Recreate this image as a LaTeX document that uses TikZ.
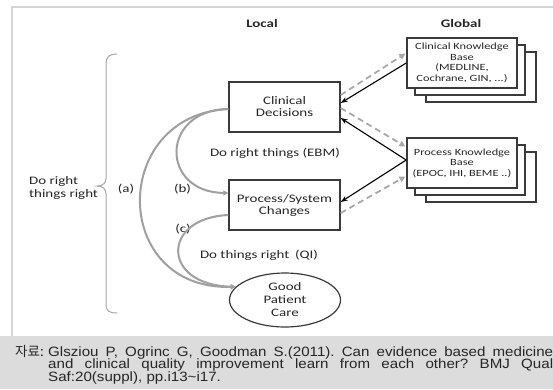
\documentclass[tikz,border=0pt]{standalone}
\usepackage{fontspec}
\usetikzlibrary{arrows.meta,calc,shapes.geometric}
\newfontfamily\dfont[FakeStretch=1.3]{Carlito}
\newfontfamily\cfont[FakeStretch=1.12]{Liberation Sans}
\newfontfamily\kfont{Noto Sans CJK KR}
\definecolor{boxc}{HTML}{3A3A3A}
\definecolor{txt}{HTML}{262626}
\definecolor{dashc}{HTML}{A8A8A8}
\definecolor{curvec}{HTML}{A0A0A0}
\definecolor{bracec}{HTML}{A8A8A8}
\definecolor{bandc}{HTML}{DCDCDC}
\definecolor{framec}{HTML}{D4D4D4}
\frenchspacing
\begin{document}
\begin{tikzpicture}[x=1pt,y=-1pt,
  box/.style={draw=boxc, line width=1.4pt, fill=white, minimum width=111pt, minimum height=50pt, inner sep=0pt, align=center, text=txt, font=\dfont\fontsize{11.5}{12}\selectfont},
  kb/.style={draw=boxc, line width=1.6pt, fill=white, minimum width=110pt, minimum height=50pt, inner sep=0pt, align=center, text=txt, font=\dfont\fontsize{9.5}{10.5}\selectfont},
  lbl/.style={inner sep=0pt, text=txt, font=\dfont\fontsize{11.5}{12.5}\selectfont},
  dasharrow/.style={draw=dashc, line width=1.8pt, dash pattern=on 6pt off 4pt, shorten >=1pt, -{Triangle[length=6pt,width=6pt]}},
  solidarrow/.style={draw=black, line width=1.1pt, -{Stealth[length=7pt,width=5pt]}},
  curvearrow/.style={draw=curvec, line width=2pt, -{Triangle[length=5pt,width=5pt]}},
  captxt/.style={inner sep=0pt, text=txt, font=\cfont\fontsize{13.5}{14.5}\selectfont\frenchspacing},
]
\useasboundingbox (0,0) rectangle (553,389);
\fill[white] (0,0) rectangle (553,389);
\fill[bandc] (0,336) rectangle (553,389);
\draw[framec, line width=1.2pt] (12,336) -- (12,7) -- (553,7);

% headings
\node[lbl, font=\dfont\bfseries\fontsize{11.5}{12}\selectfont] (local) at (262,24) {Local};
\node[lbl, font=\dfont\bfseries\fontsize{11.5}{12}\selectfont] (global) at (461,24) {Global};

% knowledge base stacks
\node[kb] (ckb3) at (481,77) {};
\node[kb] (ckb2) at (470,70) {};
\node[kb] (ckb) at (462,63) {Clinical Knowledge\\Base\\(MEDLINE,\\Cochrane, GIN, ...)};
\node[kb] (pkb3) at (481,177) {};
\node[kb] (pkb2) at (470,170) {};
\node[kb] (pkb) at (462,163) {Process Knowledge\\Base\\(EPOC, IHI, BEME ..)};

% local boxes
\node[box] (cd) at (284.5,107) {Clinical\\Decisions};
\node[box] (psc) at (284.5,205) {Process/System\\Changes};
\node[ellipse, draw=boxc, line width=1.2pt, fill=white, minimum width=111pt, minimum height=54pt, inner sep=0pt, align=center, text=txt, font=\dfont\fontsize{11.5}{13}\selectfont] (gpc) at (285,300) {Good\\Patient\\Care};

% labels
\node[lbl] (ebm) at (275,153) {Do right things (EBM)};
\node[lbl] (qi) at (259,255) {Do things right\hspace{0.5em}(QI)};
\node[lbl] (la) at (126,189) {(a)};
\node[lbl] (lb) at (182.5,189) {(b)};
\node[lbl] (lc) at (183,229) {(c)};
\node[lbl, align=left, anchor=west] (drtr) at (29,188) {Do right\\things right};

% brace
\draw[bracec, line width=1pt] (117,54) .. controls (109,54) and (106,57) .. (106,64) -- (106,178) .. controls (106,183) and (103,186) .. (97,186) .. controls (103,186) and (106,189) .. (106,194) -- (106,304) .. controls (106,311) and (109,313) .. (117,313);

% arrows to/from knowledge bases
\draw[dasharrow] ([yshift=12pt]cd.east) -- ([yshift=10pt]ckb.west);
\draw[solidarrow] (ckb.west) -- ([yshift=4pt]cd.east);
\draw[dasharrow] ([yshift=-1pt]cd.east) -- ([yshift=16pt]pkb.west);
\draw[solidarrow] ([yshift=3pt]pkb.west) -- ([yshift=-11pt]cd.east);
\draw[solidarrow] ([yshift=3pt]pkb.west) -- ([yshift=3pt]psc.east);
\draw[dasharrow] ([yshift=-8pt]psc.east) -- ([yshift=-13pt]pkb.west);

% curved gray arrows
\draw[curvearrow] ([yshift=-2pt]cd.west) .. controls (110,115) and (110,290) .. (gpc.165);
\draw[curvearrow] ([yshift=-2pt]cd.west) .. controls (160,110) and (160,192) .. ([yshift=12pt]psc.west);
\draw[curvearrow] ([yshift=-10pt]psc.west) .. controls (161,218) and (161,285) .. (gpc.165);

% source caption
\node[captxt, anchor=base west] (kr) at (15,356) {\kfont 자료:};
\node[captxt, anchor=base west] (src1) at (48,356) {\makebox[505pt][s]{Glsziou P, Ogrinc G, Goodman S.(2011). Can evidence based medicine}};
\node[captxt, anchor=base west] (src2) at (48,368.5) {\makebox[505pt][s]{and clinical quality improvement learn from each other? BMJ Qual}};
\node[captxt, anchor=base west] (src3) at (48,381) {Saf:20(suppl), pp.i13\textasciitilde i17.};
\end{tikzpicture}
\end{document}
